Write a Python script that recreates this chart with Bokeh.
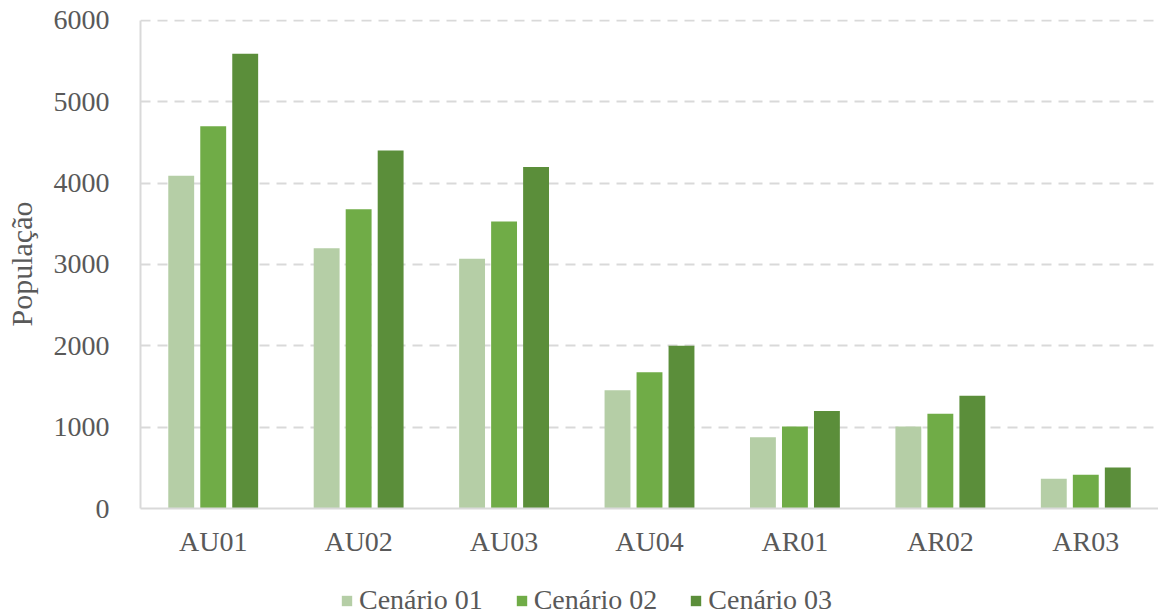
from bokeh.plotting import figure
from bokeh.layouts import column
from bokeh.models import ColumnDataSource, FactorRange, Range1d, Legend, LegendItem, FixedTicker
from bokeh.transform import dodge
from bokeh.embed import file_html
from bokeh.resources import INLINE

# Population per area under each scenario
areas = ["AU01", "AU02", "AU03", "AU04", "AR01", "AR02", "AR03"]
cenario_01 = [4090, 3200, 3070, 1455, 877, 1008, 365]
cenario_02 = [4700, 3680, 3530, 1676, 1008, 1164, 414]
cenario_03 = [5590, 4400, 4200, 2000, 1200, 1385, 504]
series_names = ["Cenário 01", "Cenário 02", "Cenário 03"]
y_ticks = [0, 1000, 2000, 3000, 4000, 5000, 6000]

colors = ["#b5cea6", "#70ac47", "#5b8e3a"]
offsets = [-0.22, 0.0, 0.22]
FONT = "Liberation Serif"
TEXT_COLOR = "#595959"
GRID_COLOR = "#d9d9d9"
WIDTH = 1158
CHART_H = 560
LEGEND_H = 54

source = ColumnDataSource(dict(area=areas, c1=cenario_01, c2=cenario_02, c3=cenario_03))

# a little headroom above 6000 so the top grid line is not clipped by the frame
p = figure(
    x_range=FactorRange(*areas, range_padding=0),
    y_range=Range1d(0, 6012),
    width=WIDTH, height=CHART_H,
    output_backend="svg", toolbar_location=None,
    min_border_left=140, min_border_right=0,
    min_border_top=19, min_border_bottom=52,
)
p.outline_line_color = None

for col, off, color in zip(["c1", "c2", "c3"], offsets, colors):
    p.vbar(x=dodge("area", off, range=p.x_range), top=col, width=0.178,
           source=source, fill_color=color, line_color=None)

# grid
p.xgrid.visible = False
p.ygrid.grid_line_color = GRID_COLOR
p.ygrid.grid_line_width = 2
p.ygrid.grid_line_dash = "10 7"
p.yaxis.ticker = FixedTicker(ticks=y_ticks)
p.yaxis.bounds = (0, 6000)

# axes
for ax in (p.xaxis[0], p.yaxis[0]):
    ax.axis_line_color = GRID_COLOR
    ax.axis_line_width = 2
    ax.major_tick_line_color = None
    ax.minor_tick_line_color = None
    ax.major_label_text_font = FONT
    ax.major_label_text_color = TEXT_COLOR
    ax.major_label_text_font_size = "28px"

p.xaxis.major_label_standoff = 11
p.yaxis.major_label_standoff = 25
p.yaxis.axis_label = "População"
p.yaxis.axis_label_text_font = FONT
p.yaxis.axis_label_text_font_style = "normal"
p.yaxis.axis_label_text_color = TEXT_COLOR
p.yaxis.axis_label_text_font_size = "30px"
p.yaxis.axis_label_standoff = 13

# legend strip under the chart, with one colour swatch per scenario
leg = figure(width=WIDTH, height=LEGEND_H, output_backend="svg", toolbar_location=None,
             x_axis_type=None, y_axis_type=None,
             min_border_left=140, min_border_right=0, min_border_top=0, min_border_bottom=0)
leg.outline_line_color = None
leg.grid.visible = False
swatches = [leg.vbar(x=[0], top=[0], width=0, fill_color=c, line_color=None) for c in colors]

legend = Legend(
    items=[LegendItem(label=n, renderers=[r]) for n, r in zip(series_names, swatches)],
    orientation="horizontal",
    location=(200, -2),
    label_text_font=FONT,
    label_text_font_size="28px",
    label_text_color=TEXT_COLOR,
    glyph_width=13, glyph_height=13,
    label_standoff=6, spacing=32,
    padding=0, margin=0,
    border_line_color=None,
    background_fill_alpha=0,
)
leg.add_layout(legend, "center")

open("out.html", "w").write(file_html(column(p, leg, spacing=0), INLINE))
